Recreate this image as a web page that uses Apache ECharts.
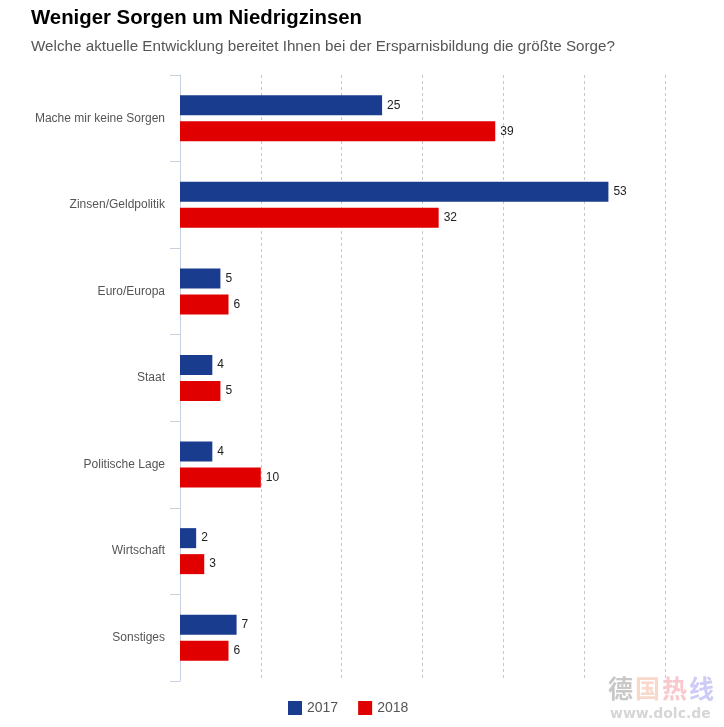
<!DOCTYPE html>
<html>
<head>
<meta charset="utf-8">
<script src="https://cdn.jsdelivr.net/npm/echarts@6/dist/echarts.min.js"></script>
<style>
html,body{margin:0;padding:0;background:#fff;}
#chart{width:724px;height:727px;}
</style>
</head>
<body>
<div id="chart"></div>
<script>
const titleText = 'Weniger Sorgen um Niedrigzinsen';
const subtitleText = 'Welche aktuelle Entwicklung bereitet Ihnen bei der Ersparnisbildung die größte Sorge?';
const categories = ['Mache mir keine Sorgen', 'Zinsen/Geldpolitik', 'Euro/Europa', 'Staat', 'Politische Lage', 'Wirtschaft', 'Sonstiges'];
const seriesNames = ['2017', '2018'];
const values2017 = [25, 53, 5, 4, 4, 2, 7];
const values2018 = [39, 32, 6, 5, 10, 3, 6];
const colors = ['#1a3c8f', '#e10000'];

// condensed look: measure text and compress horizontally to the reference width
const mctx = document.createElement('canvas').getContext('2d');
function scaleFor(text, font, target) {
  mctx.font = font;
  return target / mctx.measureText(text).width;
}
const titleFont = 'bold 21px "Liberation Sans"';
const subFont = '15px "Liberation Sans"';
const titleScale = scaleFor(titleText, titleFont, 331);
const subScale = scaleFor(subtitleText, subFont, 584);

const chart = echarts.init(document.getElementById('chart'), null, {renderer: 'canvas'});
const labelStyle = {show: true, position: 'right', distance: 5, color: '#222', fontSize: 12, fontFamily: 'Liberation Sans'};
chart.setOption({
  backgroundColor: '#fff',
  animation: false,
  legend: {
    left: 288, top: 701, padding: 0, itemWidth: 14, itemHeight: 14, itemGap: 20, icon: 'rect',
    textStyle: {fontFamily: 'Liberation Sans', fontSize: 14, color: '#555'},
    data: seriesNames
  },
  grid: {left: 180, right: 59, top: 75, bottom: 46, containLabel: false},
  xAxis: {
    type: 'value', min: 0, max: 60, interval: 10,
    axisLine: {show: false}, axisTick: {show: false}, axisLabel: {show: false},
    splitLine: {show: true, lineStyle: {color: '#c8c8c8', type: [3, 3], width: 1}}
  },
  yAxis: {
    type: 'category', inverse: true, data: categories,
    axisLine: {show: true, lineStyle: {color: '#c9d0e0', width: 1}},
    axisTick: {show: true, length: 10, lineStyle: {color: '#c9d0e0'}},
    axisLabel: {margin: 15, color: '#555', fontSize: 12, fontFamily: 'Liberation Sans'}
  },
  series: [
    {name: seriesNames[0], type: 'bar', data: values2017, barWidth: 20, barGap: '30%', itemStyle: {color: colors[0]}, label: labelStyle},
    {name: seriesNames[1], type: 'bar', data: values2018, barWidth: 20, barGap: '30%', itemStyle: {color: colors[1]}, label: labelStyle}
  ],
  graphic: [
    {type: 'text', x: 31, y: 8, scaleX: titleScale, style: {text: titleText, font: titleFont, fill: '#000', textVerticalAlign: 'top'}},
    {type: 'text', x: 31, y: 39, scaleX: subScale, style: {text: subtitleText, font: subFont, fill: '#555', textVerticalAlign: 'top'}},
    {type: 'text', x: 608, y: 676, style: {text: '德', font: 'bold 25px "Noto Sans CJK SC"', fill: '#c8c8c8'}},
    {type: 'text', x: 635, y: 676, style: {text: '国', font: 'bold 25px "Noto Sans CJK SC"', fill: '#f8d8cb'}},
    {type: 'text', x: 662, y: 676, style: {text: '热', font: 'bold 25px "Noto Sans CJK SC"', fill: '#f8c8cc'}},
    {type: 'text', x: 689, y: 676, style: {text: '线', font: 'bold 25px "Noto Sans CJK SC"', fill: '#ccccf6'}},
    {type: 'text', x: 610, y: 707, style: {text: 'www.dolc.de', font: 'bold 14px "DejaVu Sans"', fill: '#d6d6d6'}}
  ]
});
</script>
</body>
</html>
